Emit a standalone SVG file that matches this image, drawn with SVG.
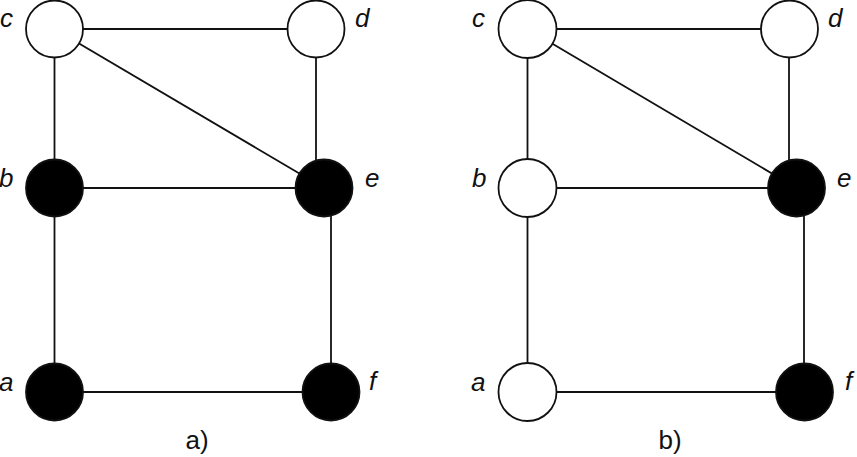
<svg xmlns="http://www.w3.org/2000/svg" width="857" height="457" viewBox="0 0 857 457">
<style>
.edge{stroke:#111;stroke-width:1.8;fill:none}
.node{stroke:#111;stroke-width:1.8}
.open{fill:#fff}
.full{fill:#000}
.lbl{font-family:"Liberation Sans",Arial,sans-serif;font-style:italic;font-size:26px;fill:#111}
.cap{font-family:"Liberation Sans",Arial,sans-serif;font-size:26px;fill:#111;text-anchor:middle}
</style>
<rect width="857" height="457" fill="#fff"/>
<g id="connectors">
<line class="edge" x1="54.5" y1="29" x2="316" y2="29"/>
<line class="edge" x1="54.5" y1="29" x2="54.5" y2="392"/>
<line class="edge" x1="54.5" y1="29" x2="324" y2="188"/>
<line class="edge" x1="316" y1="29" x2="316" y2="188"/>
<line class="edge" x1="54.5" y1="188" x2="324" y2="188"/>
<line class="edge" x1="331" y1="188" x2="331" y2="392"/>
<line class="edge" x1="54.5" y1="392" x2="331" y2="392"/>
<line class="edge" x1="527.5" y1="29" x2="789.5" y2="29"/>
<line class="edge" x1="527.5" y1="29" x2="527.5" y2="392"/>
<line class="edge" x1="527.5" y1="29" x2="796.5" y2="188"/>
<line class="edge" x1="789" y1="29" x2="789" y2="188"/>
<line class="edge" x1="527.5" y1="188" x2="796.5" y2="188"/>
<line class="edge" x1="804" y1="188" x2="804" y2="392"/>
<line class="edge" x1="527.5" y1="392" x2="804.5" y2="392"/>
</g>
<g id="a1-c"><circle class="node open" cx="54.5" cy="29" r="28.5"/><text class="lbl" x="0" y="27">c</text></g>
<g id="a1-d"><circle class="node open" cx="316" cy="29" r="28.5"/><text class="lbl" x="355" y="27">d</text></g>
<g id="a1-b"><circle class="node full" cx="54.5" cy="188" r="28.5"/><text class="lbl" x="-1" y="187">b</text></g>
<g id="a1-e"><circle class="node full" cx="324" cy="188" r="28.5"/><text class="lbl" x="365" y="187">e</text></g>
<g id="a1-a"><circle class="node full" cx="54.5" cy="392" r="28.5"/><text class="lbl" x="-1" y="391">a</text></g>
<g id="a1-f"><circle class="node full" cx="331" cy="392" r="28.5"/><text class="lbl" x="369" y="390">f</text></g>
<text class="cap" x="197" y="449">a)</text>
<g id="b1-c"><circle class="node open" cx="527.5" cy="29" r="29"/><text class="lbl" x="472" y="27">c</text></g>
<g id="b1-d"><circle class="node open" cx="789.5" cy="29" r="28.5"/><text class="lbl" x="828" y="27">d</text></g>
<g id="b1-b"><circle class="node open" cx="527.5" cy="188" r="29"/><text class="lbl" x="472" y="187">b</text></g>
<g id="b1-e"><circle class="node full" cx="796.5" cy="188" r="28.5"/><text class="lbl" x="837" y="187">e</text></g>
<g id="b1-a"><circle class="node open" cx="527.5" cy="392" r="29"/><text class="lbl" x="471" y="391">a</text></g>
<g id="b1-f"><circle class="node full" cx="804.5" cy="392" r="28.5"/><text class="lbl" x="845" y="390">f</text></g>
<text class="cap" x="670" y="449">b)</text>
</svg>
